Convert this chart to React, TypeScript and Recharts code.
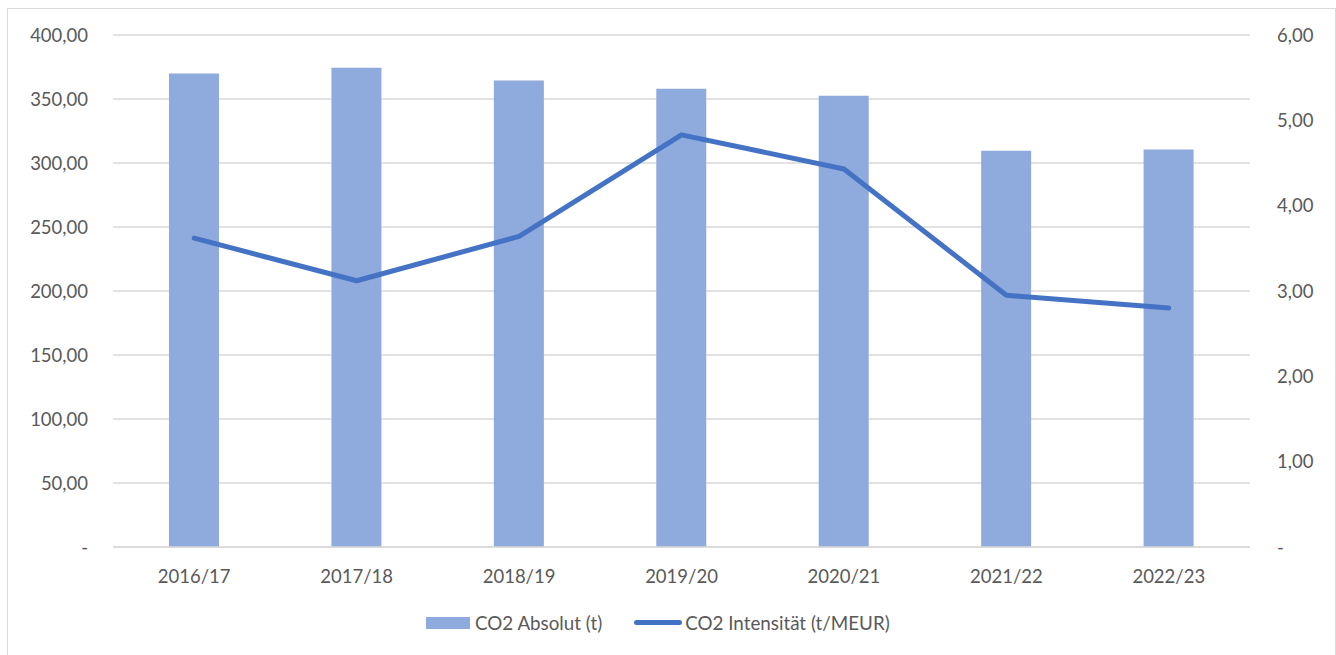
import {
  ComposedChart,
  Bar,
  Line,
  XAxis,
  YAxis,
  CartesianGrid,
} from "recharts";

const years = ["2016/17", "2017/18", "2018/19", "2019/20", "2020/21", "2021/22", "2022/23"];
const co2Absolut = [370, 374.5, 364.5, 358, 352.5, 309.5, 310.5];
const co2Intensitaet = [3.62, 3.12, 3.64, 4.83, 4.43, 2.95, 2.8];
const leftTicks = [0, 50, 100, 150, 200, 250, 300, 350, 400];
const rightTicks = [0, 1, 2, 3, 4, 5, 6];

const data = years.map((year, i) => ({
  year,
  absolut: co2Absolut[i],
  intensitaet: co2Intensitaet[i],
}));

const FONT = "Lato, 'Open Sans', sans-serif";
const TEXT = "#595959";
const BAR = "#8FAADC";
const LINE = "#4472C4";

const fmt = (v: number) => (v === 0 ? "-" : v.toFixed(2).replace(".", ","));

export default function App() {
  const tick = { fill: TEXT, fontSize: 18.5, fontFamily: FONT };
  return (
    <div
      style={{
        position: "absolute",
        left: 0,
        top: 0,
        width: 1336,
        height: 655,
        background: "#fff",
        fontFamily: FONT,
      }}
    >
      <div
        style={{
          position: "absolute",
          left: 7,
          top: 8,
          width: 1327,
          height: 660,
          border: "1px solid #d9d9d9",
        }}
      />
      <ComposedChart
        width={1336}
        height={655}
        data={data}
        margin={{ top: 35, right: 26, bottom: 68, left: 53 }}
        style={{ position: "absolute", left: 0, top: 0 }}
      >
        <CartesianGrid vertical={false} stroke="#d9d9d9" strokeWidth={1.5} yAxisId="left" />
        <XAxis
          dataKey="year"
          axisLine={{ stroke: "#d9d9d9", strokeWidth: 1.5 }}
          tickLine={false}
          tick={tick}
          tickMargin={17}
          height={40}
          interval={0}
        />
        <YAxis
          yAxisId="left"
          domain={[0, 400]}
          ticks={leftTicks}
          tickFormatter={fmt}
          axisLine={false}
          tickLine={false}
          tick={tick}
          tickMargin={19}
          width={60}
        />
        <YAxis
          yAxisId="right"
          orientation="right"
          domain={[0, 6]}
          ticks={rightTicks}
          tickFormatter={fmt}
          axisLine={false}
          tickLine={false}
          tick={{ ...tick, textAnchor: "start" }}
          tickMargin={21}
          width={60}
        />
        <Bar
          yAxisId="left"
          dataKey="absolut"
          fill={BAR}
          barSize={50}
          isAnimationActive={false}
        />
        <Line
          yAxisId="right"
          dataKey="intensitaet"
          stroke={LINE}
          strokeWidth={5}
          strokeLinecap="round"
          strokeLinejoin="round"
          dot={false}
          activeDot={false}
          isAnimationActive={false}
        />
      </ComposedChart>
      <div
        style={{
          position: "absolute",
          left: 426,
          top: 611,
          display: "flex",
          alignItems: "center",
          color: TEXT,
          fontSize: 18.8,
          whiteSpace: "nowrap",
        }}
      >
        <span style={{ display: "inline-block", width: 44, height: 12, background: BAR, marginRight: 5 }} />
        <span>CO2 Absolut (t)</span>
        <span
          style={{
            display: "inline-block",
            width: 48,
            height: 5,
            borderRadius: 3,
            background: LINE,
            marginLeft: 32,
            marginRight: 3,
          }}
        />
        <span>CO2 Intensität (t/MEUR)</span>
      </div>
    </div>
  );
}
